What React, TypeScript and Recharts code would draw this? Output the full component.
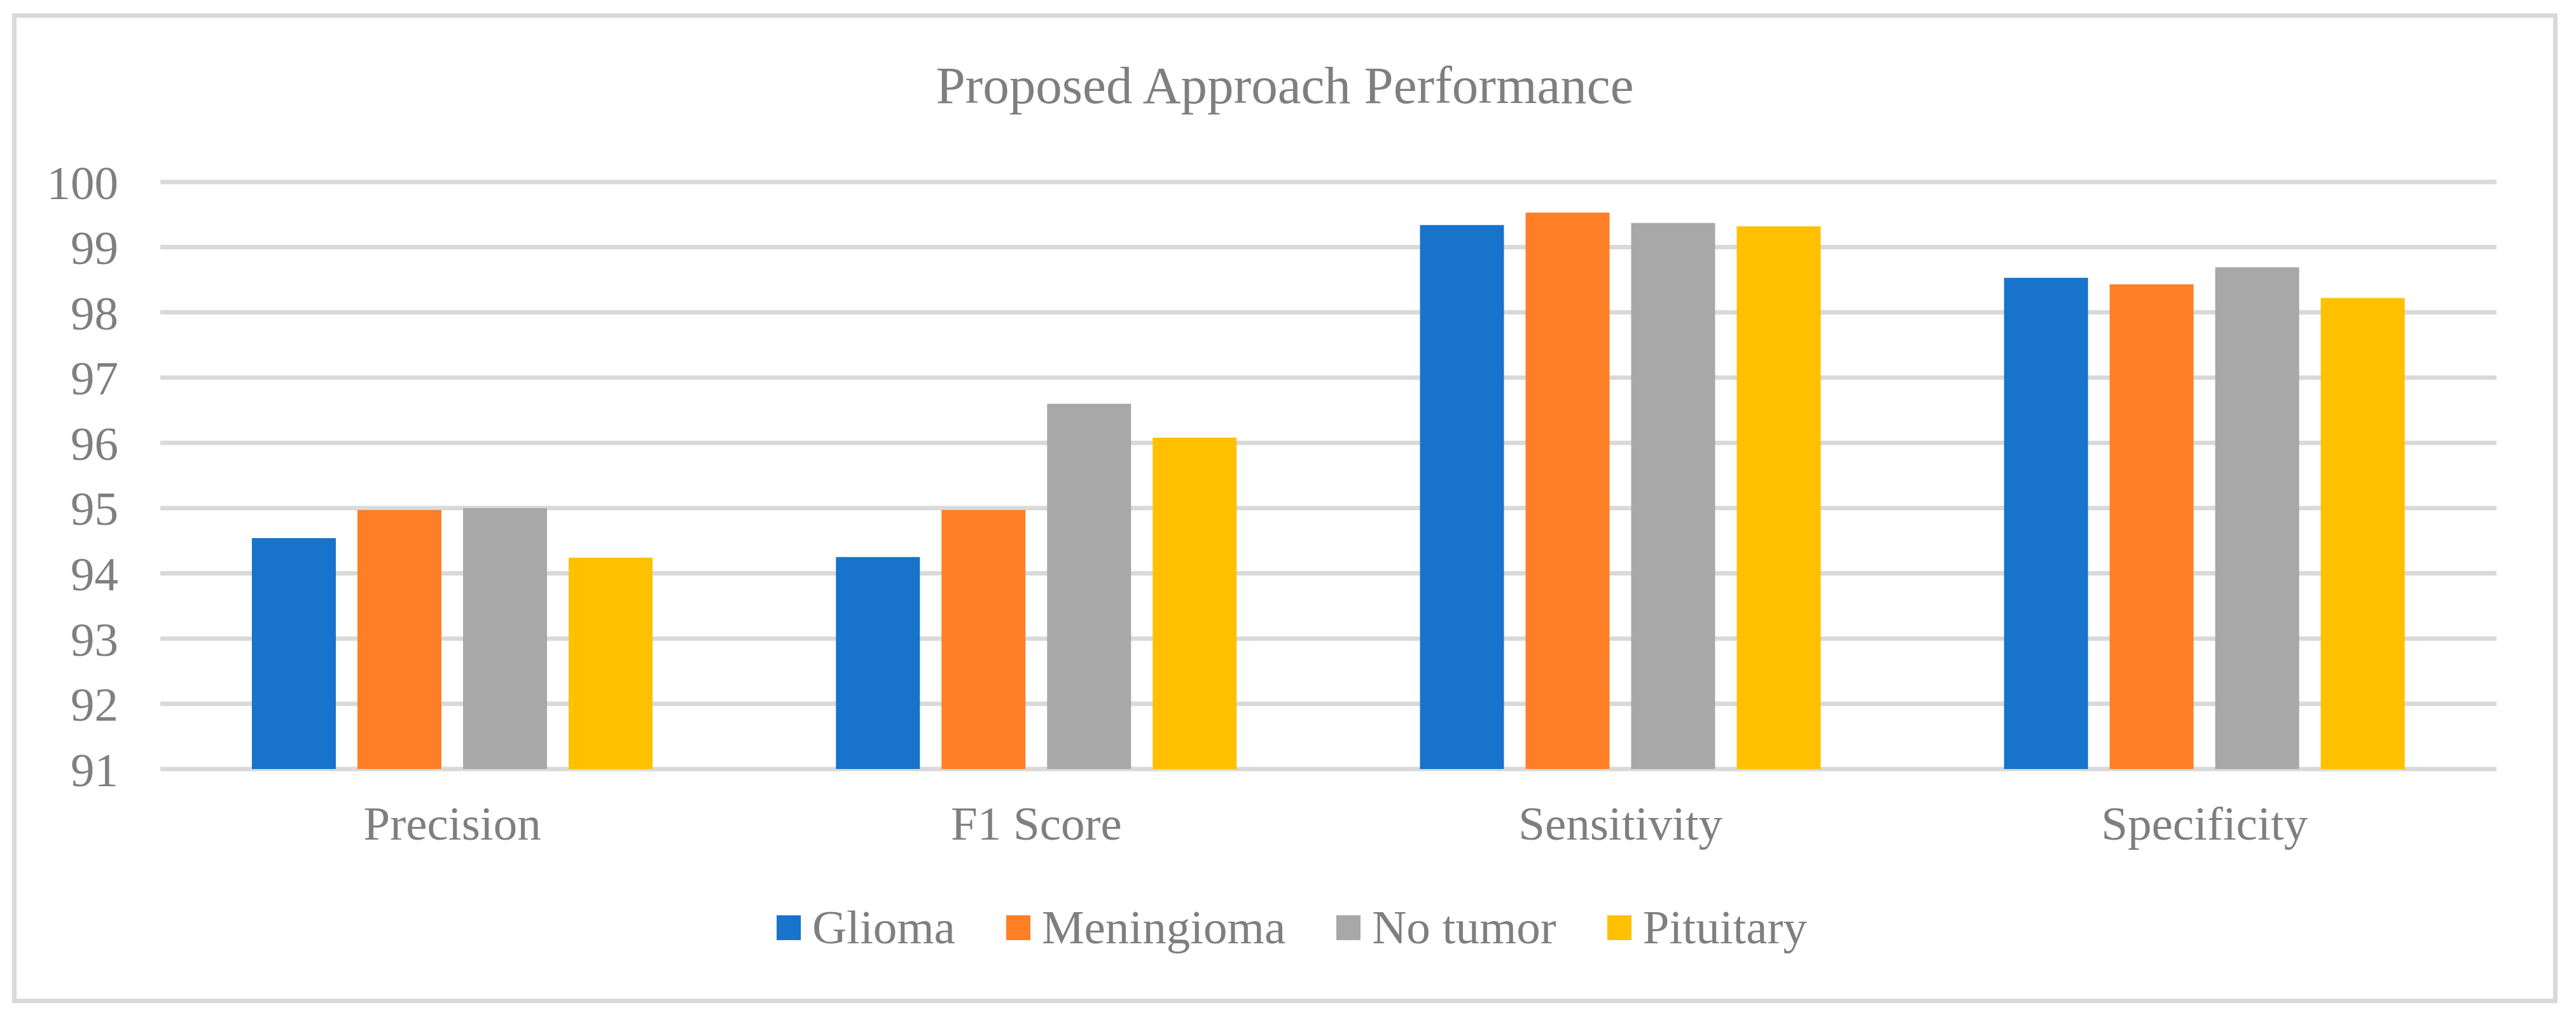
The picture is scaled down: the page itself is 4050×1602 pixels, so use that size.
import { BarChart, Bar, XAxis, YAxis, CartesianGrid, Legend } from 'recharts';

const categories = ['Precision', 'F1 Score', 'Sensitivity', 'Specificity'];
const glioma = [94.54, 94.25, 99.34, 98.53];
const meningioma = [94.97, 94.97, 99.53, 98.43];
const noTumor = [95.0, 96.6, 99.37, 98.69];
const pituitary = [94.24, 96.08, 99.32, 98.22];
const yTicks = [91, 92, 93, 94, 95, 96, 97, 98, 99, 100];

const SERIES = [
    { key: 'glioma', name: 'Glioma', color: '#1874CB' },
    { key: 'meningioma', name: 'Meningioma', color: '#FF7F27' },
    { key: 'noTumor', name: 'No tumor', color: '#A8A8A8' },
    { key: 'pituitary', name: 'Pituitary', color: '#FFC000' },
];

const chartData = categories.map((name, i) => ({
    name,
    glioma: glioma[i],
    meningioma: meningioma[i],
    noTumor: noTumor[i],
    pituitary: pituitary[i],
}));

const FONT = '"Liberation Serif", "Times New Roman", serif';
const TEXT = '#7f7f7f';

function LegendContent() {
    return (
        <div style={{ height: 100, display: 'flex', alignItems: 'center', justifyContent: 'center', paddingLeft: 12 }}>
            {SERIES.map((s, i) => (
                <div key={s.key} style={{ display: 'flex', alignItems: 'center', marginLeft: i === 0 ? 0 : 80 }}>
                    <span style={{ width: 38, height: 39, background: s.color, display: 'inline-block', marginRight: 18 }} />
                    <span style={{ fontFamily: FONT, fontSize: 75, color: TEXT, lineHeight: 'normal' }}>{s.name}</span>
                </div>
            ))}
        </div>
    );
}

export default function App() {
    return (
        <div style={{ position: 'absolute', left: 0, top: 0, width: 4050, height: 1602, background: '#fff', fontFamily: FONT }}>
            <div
                style={{
                    position: 'absolute', left: 19, top: 21, width: 4002, height: 1556,
                    border: '7px solid #d9d9d9', boxSizing: 'border-box', pointerEvents: 'none'
                }}
            />
            <div
                style={{
                    position: 'absolute', left: 0, top: 93, width: 4040, textAlign: 'center',
                    fontFamily: FONT, fontSize: 83, lineHeight: '83px', color: TEXT
                }}
            >
                Proposed Approach Performance
            </div>
            <div style={{ position: 'absolute', left: 0, top: 0 }}>
                <BarChart
                    width={4050}
                    height={1602}
                    data={chartData}
                    margin={{ top: 286, right: 125, left: 0, bottom: 94 }}
                    barSize={132}
                    barGap={34}
                    style={{ fontFamily: FONT }}
                >
                    <CartesianGrid vertical={false} stroke="#d9d9d9" strokeWidth={7} />
                    <XAxis
                        dataKey="name"
                        height={199}
                        axisLine={false}
                        tickLine={false}
                        tickSize={0}
                        tickMargin={58}
                        tick={{ fontSize: 75, fill: TEXT, fontFamily: FONT }}
                    />
                    <YAxis
                        width={252}
                        domain={[91, 100]}
                        ticks={yTicks}
                        interval={0}
                        axisLine={false}
                        tickLine={false}
                        tickSize={0}
                        tickMargin={66}
                        tick={{ fontSize: 75, fill: TEXT, fontFamily: FONT }}
                    />
                    <Legend
                        verticalAlign="bottom"
                        content={<LegendContent />}
                        wrapperStyle={{ left: 0, width: 4050 }}
                    />
                    {SERIES.map(s => (
                        <Bar key={s.key} dataKey={s.key} name={s.name} fill={s.color} isAnimationActive={false} />
                    ))}
                </BarChart>
            </div>
        </div>
    );
}
